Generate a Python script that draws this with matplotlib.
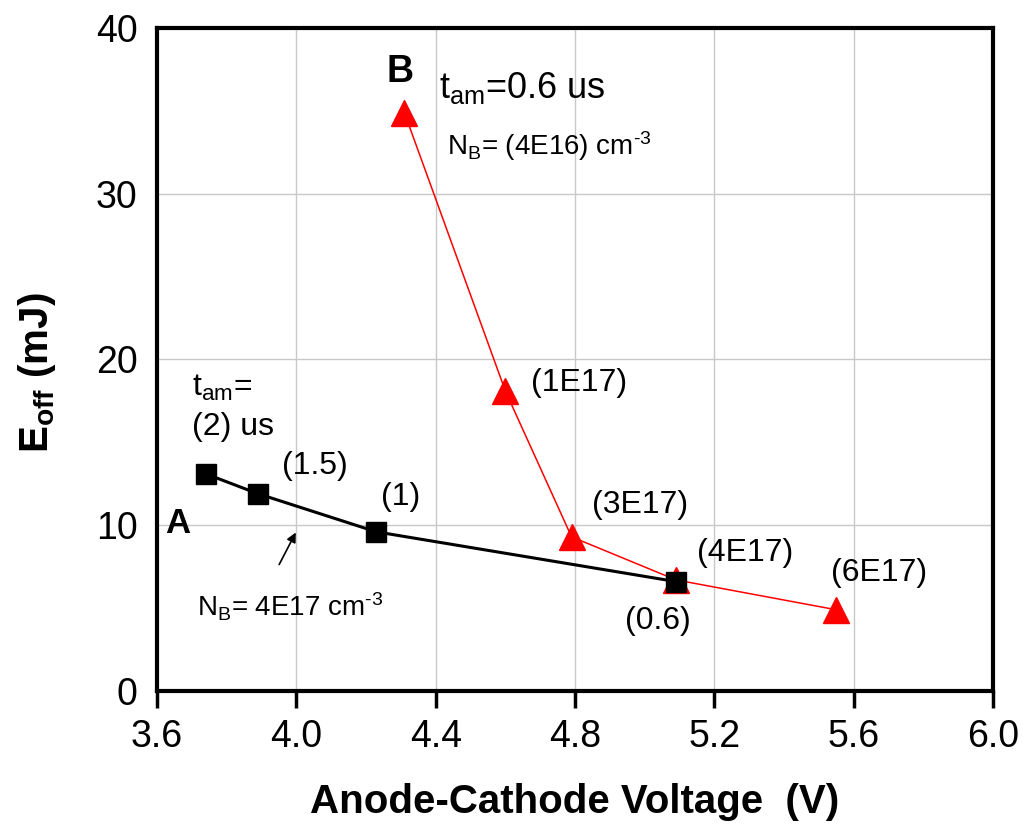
import matplotlib
matplotlib.use("Agg")
import matplotlib.pyplot as plt
from matplotlib import font_manager

plt.rcParams['font.family'] = ['Liberation Sans', 'DejaVu Sans']
plt.rcParams['mathtext.fontset'] = 'custom'
plt.rcParams['mathtext.rm'] = 'Liberation Sans'
plt.rcParams['mathtext.it'] = 'Liberation Sans:italic'

# axis labels in the reference use a tall, narrow bold face
try:
    font_manager.findfont(font_manager.FontProperties(family='Liberation Sans Narrow', weight='bold'),
                          fallback_to_default=False)
    label_family = ['Liberation Sans Narrow', 'Liberation Sans']
    label_size = 34
    plt.rcParams['mathtext.bf'] = 'Liberation Sans Narrow:bold'
except Exception:
    label_family = ['Liberation Sans', 'DejaVu Sans']
    label_size = 29
    plt.rcParams['mathtext.bf'] = 'Liberation Sans:bold'

# series A: N_B = 4E17 cm^-3, varying t_am
voltage_a = [3.74, 3.89, 4.23, 5.09]
eoff_a = [13.1, 11.9, 9.6, 6.6]

# series B: t_am = 0.6 us, varying N_B
voltage_b = [4.31, 4.60, 4.79, 5.09, 5.55]
eoff_b = [34.9, 18.1, 9.3, 6.7, 4.9]

x_ticks = [3.6, 4.0, 4.4, 4.8, 5.2, 5.6, 6.0]
y_ticks = [0, 10, 20, 30, 40]

fig = plt.figure(figsize=(10.23, 8.31), dpi=100)
ax = fig.add_axes([0.1535, 0.1685, 0.8172, 0.7978])

ax.plot(voltage_b, eoff_b, color='red', lw=1.1, marker='^', ms=18.5,
        markeredgecolor='red', zorder=3)
ax.plot(voltage_a, eoff_a, color='black', lw=2.2, marker='s', ms=14,
        zorder=4)

ax.set_xlim(3.6, 6.0)
ax.set_ylim(0, 40)
ax.set_xticks(x_ticks)
ax.set_xticklabels([f"{v:.1f}" for v in x_ticks])
ax.set_yticks(y_ticks)
ax.grid(True, color='#c8c8c8', lw=1.0)
ax.set_axisbelow(True)
for s in ax.spines.values():
    s.set_linewidth(3.0)
ax.tick_params(axis='x', direction='out', length=12, width=2.5, labelsize=27, pad=8)
ax.tick_params(axis='y', direction='out', length=0, labelsize=27, pad=14)

ax.set_xlabel("Anode-Cathode Voltage  (V)", fontsize=label_size, fontweight='bold',
              family=label_family, labelpad=20)
ax.set_ylabel(r"$\mathbf{E_{off}}$ (mJ)", fontsize=label_size, fontweight='bold',
              family=label_family)
ax.yaxis.set_label_coords(-0.118, 0.48)

# annotations
ax.text(4.298, 37.35, "B", fontsize=27, fontweight='bold', ha='center', va='center')
ax.text(4.41, 36.4, r"t$_\mathrm{am}$=0.6 us", fontsize=26, ha='left', va='center')
ax.text(4.433, 32.9, r"N$_\mathrm{B}$= (4E16) cm$^{\text{-3}}$", fontsize=20, ha='left', va='center')
ax.text(3.70, 18.3, r"t$_\mathrm{am}$=", fontsize=23, ha='left', va='center')
ax.text(3.70, 15.9, "(2) us", fontsize=23, ha='left', va='center')
ax.text(3.96, 13.6, "(1.5)", fontsize=23, ha='left', va='center')
ax.text(4.243, 11.7, "(1)", fontsize=23, ha='left', va='center')
ax.text(3.66, 10.1, "A", fontsize=25, fontweight='bold', ha='center', va='center')
ax.text(3.715, 5.1, r"N$_\mathrm{B}$= 4E17 cm$^{\text{-3}}$", fontsize=20, ha='left', va='center')
ax.text(4.674, 18.6, "(1E17)", fontsize=23, ha='left', va='center')
ax.text(4.849, 11.2, "(3E17)", fontsize=23, ha='left', va='center')
ax.text(5.15, 8.3, "(4E17)", fontsize=23, ha='left', va='center')
ax.text(5.535, 7.1, "(6E17)", fontsize=23, ha='left', va='center')
ax.text(4.944, 4.2, "(0.6)", fontsize=23, ha='left', va='center')
ax.annotate("", xy=(4.002, 9.71), xytext=(3.947, 7.48),
            arrowprops=dict(arrowstyle='-|>', color='black', lw=1.2, mutation_scale=14))

fig.savefig("out.png", dpi=100)
